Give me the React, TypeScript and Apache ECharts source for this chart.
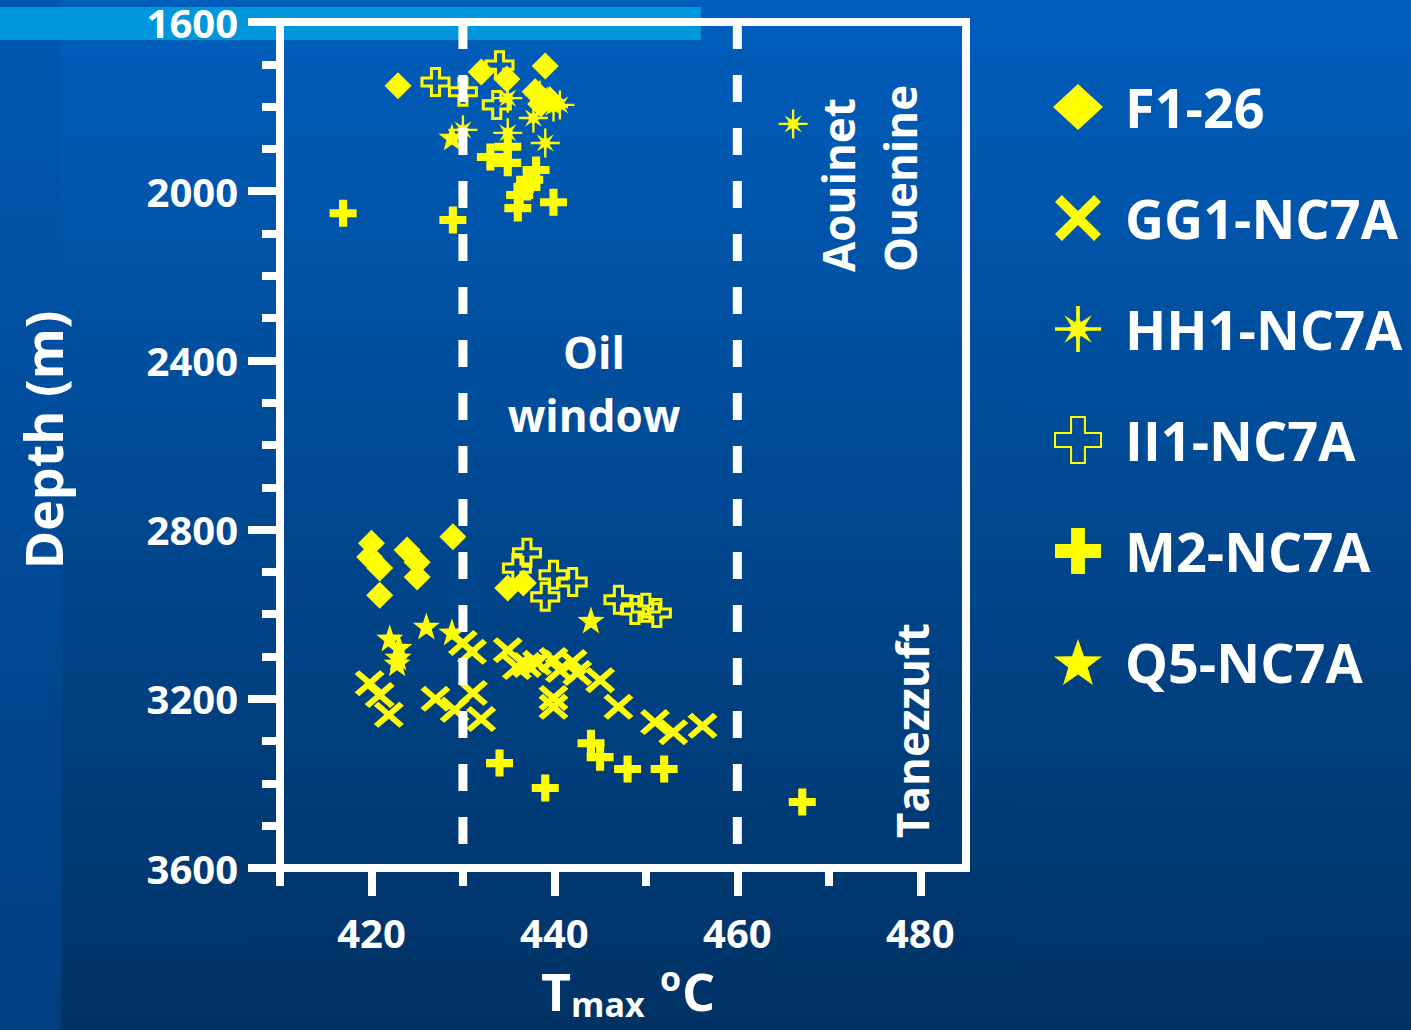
import React, { useEffect, useRef } from "react";
import * as echarts from "echarts";

// ---- data ----
const xLabelTicks = [420, 440, 460, 480];
const xMinorTicks = [410, 430, 450, 470];
const oilWindowLimits = [430, 460];
const depthRange = [1600, 3600];

const f126: number[][] = [
  [422.9, 1751], [432.0, 1718], [434.8, 1735], [439.0, 1704], [437.9, 1765], [438.5, 1794], [439.5, 1784],
  [420.0, 2832], [419.8, 2865], [420.9, 2891], [420.9, 2955], [423.9, 2848], [425.0, 2877], [425.0, 2912],
  [428.9, 2817], [434.9, 2938], [436.6, 2926],
];
const gg1: number[][] = [
  [419.8, 3163], [420.9, 3191], [421.9, 3238], [427.0, 3200], [429.1, 3226], [431.1, 3186], [432.0, 3248],
  [430.0, 3068], [431.0, 3089], [434.9, 3085], [435.9, 3125], [437.0, 3120], [438.1, 3115], [439.9, 3108],
  [439.9, 3198], [439.9, 3219], [440.6, 3132], [442.0, 3113], [442.5, 3139], [445.0, 3156], [447.0, 3219],
  [451.0, 3255], [453.0, 3279], [456.2, 3264],
];
const hh1: number[][] = [
  [430.0, 1855], [434.9, 1780], [434.9, 1862], [439.0, 1886], [437.7, 1827], [439.9, 1801], [440.6, 1796],
  [438.4, 1773], [466.1, 1841],
];
const ii1: number[][] = [
  [427.0, 1742], [430.0, 1765], [434.0, 1702], [433.7, 1796],
  [437.0, 2855], [435.9, 2891], [439.9, 2907], [442.0, 2924], [439.0, 2959], [447.0, 2966], [448.8, 2990],
  [451.2, 2997], [450.0, 2985],
];
const m2: number[][] = [
  [416.9, 2052], [428.9, 2068], [433.0, 1919], [434.9, 1895], [434.9, 1933], [438.0, 1950], [437.0, 1990],
  [436.0, 2040], [439.9, 2026], [437.3, 1973], [436.2, 2009],
  [434.0, 3352], [439.0, 3411], [444.0, 3305], [445.0, 3338], [448.0, 3366], [452.0, 3366], [467.1, 3444],
];
const q5: number[][] = [
  [428.8, 1872],
  [444.0, 3014], [426.0, 3028], [422.0, 3056], [428.8, 3042], [423.0, 3078], [422.9, 3101], [422.8, 3115],
];

// ---- symbols ----
const SYM_X = "path://M0,15 L15,0 L50,35 L85,0 L100,15 L65,50 L100,85 L85,100 L50,65 L15,100 L0,85 L35,50 Z";
const SYM_PLUS = "path://M35,0 L65,0 L65,35 L100,35 L100,65 L65,65 L65,100 L35,100 L35,65 L0,65 L0,35 L35,35 Z";
const SYM_STAR = "path://M50,0 L61.76,33.82 L97.55,34.55 L69.02,56.18 L79.39,90.45 L50,70 L20.61,90.45 L30.98,56.18 L2.45,34.55 L38.24,33.82 Z";
const SYM_AST =
  "path://M0,46 L100,46 L100,54 L0,54 Z M46,0 L54,0 L54,100 L46,100 Z " +
  "M82,50 L64.78,56.12 L79.7,79.7 L56.12,64.78 L50,82 L43.88,64.78 L20.3,79.7 L35.22,56.12 L18,50 " +
  "L35.22,43.88 L20.3,20.3 L43.88,35.22 L50,18 L56.12,35.22 L79.7,20.3 L64.78,43.88 Z";

const YELLOW = "#FFFF00";
const FONT = "'Open Sans', 'DejaVu Sans', sans-serif";

function txt(text: string, x: number, y: number, size: number, align: string, rotation = 0) {
  return {
    type: "text",
    x,
    y,
    rotation,
    style: {
      text,
      fill: "#FFFFFF",
      fontSize: size,
      fontWeight: "bold",
      fontFamily: FONT,
      align,
      verticalAlign: "middle",
      textAlign: align,
      textVerticalAlign: "middle",
    },
  };
}

export default function App() {
  const ref = useRef<HTMLDivElement>(null);
  useEffect(() => {
    document.body.style.margin = "0";
    const chart = echarts.init(ref.current!, null, { renderer: "svg" });
    const gridPos = { left: 280, top: 22, right: 445, bottom: 162 };
    const scatterBase = (name: string, data: number[][], symbol: string, size: any, extra: any = {}) => ({
      type: "scatter",
      name,
      data,
      symbol,
      symbolSize: size,
      xAxisIndex: 0,
      yAxisIndex: 0,
      z: 3,
      itemStyle: { color: YELLOW, opacity: 1, ...extra },
    });
    const dashed = (x: number) => ({
      type: "line",
      data: [[x, depthRange[0]], [x, depthRange[1]]],
      symbol: "none",
      silent: true,
      z: 5,
      lineStyle: { color: "#FFFFFF", width: 9, type: [27, 26] },
    });
    const option: any = {
      animation: false,
      backgroundColor: "transparent",
      textStyle: { fontFamily: FONT },
      grid: [
        { ...gridPos, show: true, borderColor: "#FFFFFF", borderWidth: 8, backgroundColor: "transparent" },
        { ...gridPos, show: false },
      ],
      xAxis: [
        {
          type: "value", gridIndex: 0, min: 410, max: 485, position: "bottom",
          axisLine: { show: true, lineStyle: { color: "#FFFFFF", width: 8 } },
          axisTick: { show: true, customValues: xLabelTicks, length: 28, lineStyle: { color: "#FFFFFF", width: 8 } },
          axisLabel: { show: true, customValues: xLabelTicks, margin: 44, color: "#FFFFFF", fontSize: 40, fontWeight: "bold", fontFamily: FONT },
          splitLine: { show: false },
        },
        {
          type: "value", gridIndex: 1, min: 410, max: 485, position: "bottom",
          axisLine: { show: false },
          axisTick: { show: true, customValues: xMinorTicks, length: 18, lineStyle: { color: "#FFFFFF", width: 8 } },
          axisLabel: { show: false },
          splitLine: { show: false },
        },
      ],
      yAxis: [
        {
          type: "value", gridIndex: 0, inverse: true, min: depthRange[0], max: depthRange[1], interval: 400,
          axisLine: { show: true, lineStyle: { color: "#FFFFFF", width: 8 } },
          axisTick: { show: true, length: 32, lineStyle: { color: "#FFFFFF", width: 8 } },
          minorTick: { show: true, splitNumber: 4, length: 18, lineStyle: { color: "#FFFFFF", width: 8 } },
          axisLabel: {
            margin: 42, color: "#FFFFFF", fontSize: 40, lineHeight: 36, fontWeight: "bold", fontFamily: FONT,
            formatter: (v: number) => String(v),
          },
          splitLine: { show: false },
          minorSplitLine: { show: false },
        },
        { type: "value", gridIndex: 1, show: false, min: depthRange[0], max: depthRange[1], inverse: true },
      ],
      legend: {
        orient: "vertical",
        left: 1048,
        top: 72,
        itemWidth: 50,
        itemHeight: 46,
        itemGap: 51,
        data: ["F1-26", "GG1-NC7A", "HH1-NC7A", "II1-NC7A", "M2-NC7A", "Q5-NC7A"],
        textStyle: { color: "#FFFFFF", fontSize: 54, fontWeight: "bold", fontFamily: FONT, lineHeight: 60, padding: [0, 0, 0, 17] },
        selectedMode: false,
      },
      series: [
        scatterBase("F1-26", f126, "diamond", 27),
        scatterBase("GG1-NC7A", gg1, SYM_X, [30, 26]),
        scatterBase("HH1-NC7A", hh1, SYM_AST, 29),
        scatterBase("II1-NC7A", ii1, SYM_PLUS, 27, { color: "transparent", borderColor: YELLOW, borderWidth: 3 }),
        scatterBase("M2-NC7A", m2, SYM_PLUS, 27),
        scatterBase("Q5-NC7A", q5, SYM_STAR, 27),
        dashed(oilWindowLimits[0]),
        dashed(oilWindowLimits[1]),
      ],
      graphic: [
        txt("Oil", 594, 352, 44, "center"),
        txt("window", 594, 415, 44, "center"),
        txt("Aouinet", 838, 272, 44, "left", Math.PI / 2),
        txt("Ouenine", 900, 272, 44, "left", Math.PI / 2),
        txt("Tanezzuft", 912, 838, 44, "left", Math.PI / 2),
        txt("Depth (m)", 42, 440, 52, "center", Math.PI / 2),
        txt("T", 541, 990, 52, "left"),
        txt("max", 571, 1004, 34, "left"),
        txt("o", 660, 978, 34, "left"),
        txt("C", 682, 990, 52, "left"),
      ],
    };
    chart.setOption(option);
    return () => chart.dispose();
  }, []);
  return (
    <div
      ref={ref}
      style={{
        width: 1411,
        height: 1030,
        background:
          "linear-gradient(#0096DC,#0096DC) 0px 7px / 701px 33px no-repeat, " +
          "linear-gradient(#0058B2,#003E80) 0px 0px / 61px 100% no-repeat, " +
          "linear-gradient(#005EBD,#003264)",
      }}
    />
  );
}
